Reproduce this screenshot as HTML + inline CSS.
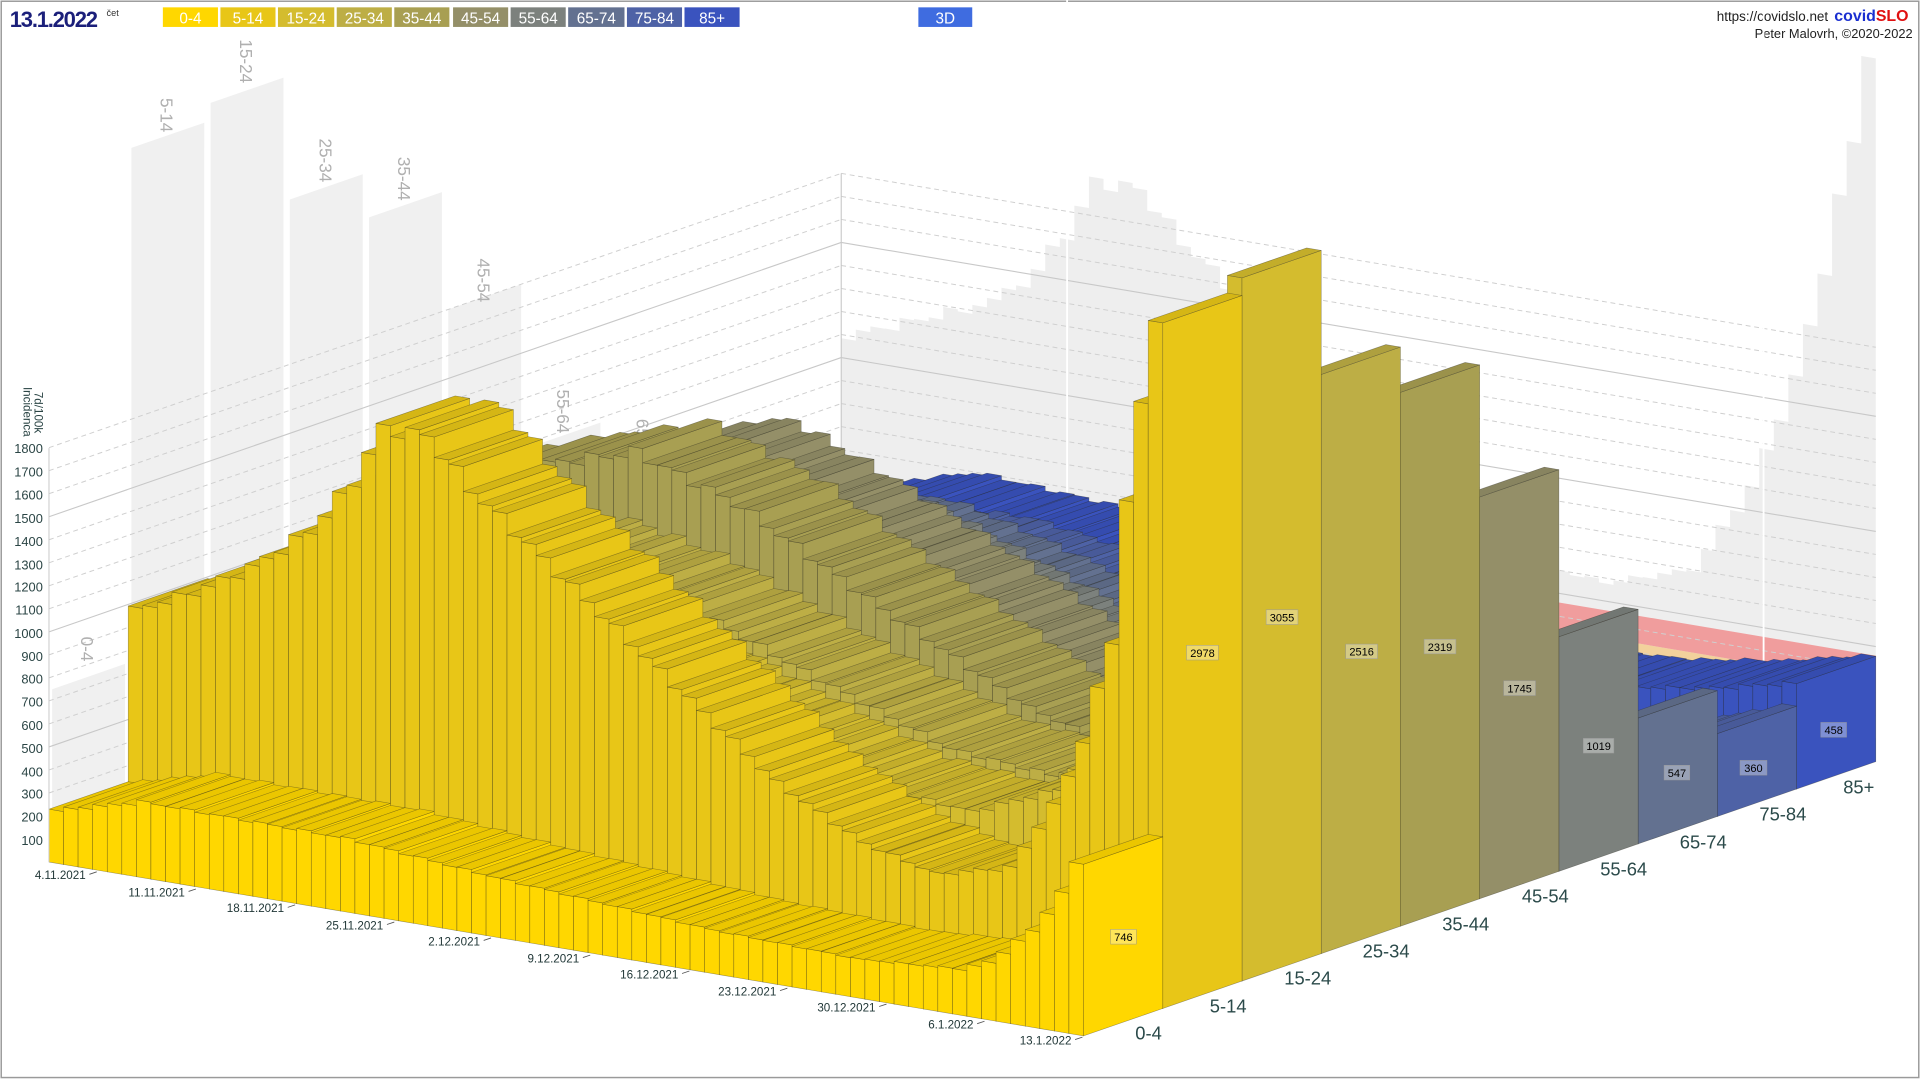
<!DOCTYPE html>
<html><head><meta charset="utf-8">
<style>
html,body{margin:0;padding:0;background:#fff;width:1920px;height:1080px;overflow:hidden}
svg{display:block}
text{font-family:"Liberation Sans Narrow","Liberation Sans",sans-serif}
</style></head>
<body>
<svg id="s" width="1920" height="1080" viewBox="0 0 1568 882" preserveAspectRatio="none" xmlns="http://www.w3.org/2000/svg">
<rect x="1" y="1" width="1566" height="879" fill="#fff" stroke="#9a9a9a" stroke-width="1.2"/>
<text x="8" y="22" font-size="18" font-weight="bold" fill="#1b1f7a" style="letter-spacing:-1px">13.1.2022</text>
<text x="87" y="13" font-size="7.5" fill="#333">čet</text>
<g font-size="12.5" fill="#fff" text-anchor="middle">
<rect x="133" y="6" width="45" height="16" fill="#FFD700"/><text x="155.5" y="19">0-4</text>
<rect x="180" y="6" width="45" height="16" fill="#E8C617"/><text x="202.5" y="19">5-14</text>
<rect x="227" y="6" width="46" height="16" fill="#D4BC2E"/><text x="250" y="19">15-24</text>
<rect x="275" y="6" width="45" height="16" fill="#BDAE45"/><text x="297.5" y="19">25-34</text>
<rect x="322" y="6" width="45" height="16" fill="#A89F52"/><text x="344.5" y="19">35-44</text>
<rect x="370" y="6" width="45" height="16" fill="#948F68"/><text x="392.5" y="19">45-54</text>
<rect x="417" y="6" width="45" height="16" fill="#7C817D"/><text x="439.5" y="19">55-64</text>
<rect x="464" y="6" width="46" height="16" fill="#637190"/><text x="487" y="19">65-74</text>
<rect x="512" y="6" width="45" height="16" fill="#4E62A6"/><text x="534.5" y="19">75-84</text>
<rect x="559" y="6" width="45" height="16" fill="#3A53BE"/><text x="581.5" y="19">85+</text>
<rect x="750" y="6" width="44" height="16" fill="#3F6CE0"/><text x="772" y="19">3D</text>
</g>
<text x="1493" y="17" font-size="11" fill="#222" text-anchor="end">https://covidslo.net</text>
<text x="1498" y="17" font-size="13" font-weight="bold" fill="#1a2fd0">covid<tspan fill="#e01010">SLO</tspan></text>
<text x="1562" y="31" font-size="10.5" fill="#222" text-anchor="end">Peter Malovrh, ©2020-2022</text>

<g id="walls"></g>

<g font-size="14" fill="#b0b0b0">
<text transform="translate(66,530) rotate(90)" text-anchor="middle">0-4</text>
<text transform="translate(131,94) rotate(90)" text-anchor="middle">5-14</text>
<text transform="translate(196,50) rotate(90)" text-anchor="middle">15-24</text>
<text transform="translate(261,131) rotate(90)" text-anchor="middle">25-34</text>
<text transform="translate(325,146) rotate(90)" text-anchor="middle">35-44</text>
<text transform="translate(390,229) rotate(90)" text-anchor="middle">45-54</text>
<text transform="translate(455,336) rotate(90)" text-anchor="middle">55-64</text>
<text transform="translate(520,360) rotate(90)" text-anchor="middle">65-74</text>
<text transform="translate(584,372) rotate(90)" text-anchor="middle">75-84</text>
<text transform="translate(649,370) rotate(90)" text-anchor="middle">85+</text>
</g>

<g id="bars"></g>

<line x1="40" y1="366" x2="40" y2="704" stroke="#c8c8c8" stroke-width="0.8"/>
<g font-size="10.5" fill="#2b4545" text-anchor="end">
<text x="35" y="690">100</text><text x="35" y="671">200</text><text x="35" y="652">300</text>
<text x="35" y="634">400</text><text x="35" y="615">500</text><text x="35" y="596">600</text>
<text x="35" y="577">700</text><text x="35" y="558">800</text><text x="35" y="540">900</text>
<text x="35" y="521">1000</text><text x="35" y="502">1100</text><text x="35" y="483">1200</text>
<text x="35" y="465">1300</text><text x="35" y="446">1400</text><text x="35" y="427">1500</text>
<text x="35" y="408">1600</text><text x="35" y="389">1700</text><text x="35" y="370">1800</text>
</g>
<text transform="translate(19,316) rotate(90)" font-size="9.5" fill="#2b4545">Incidenca</text>
<text transform="translate(28,320) rotate(90)" font-size="9.5" fill="#2b4545">7d/100k</text>

<g font-size="9.5" fill="#223838" text-anchor="end">
<text x="70" y="718">4.11.2021</text>
<text x="151" y="732">11.11.2021</text>
<text x="232" y="745">18.11.2021</text>
<text x="313" y="759">25.11.2021</text>
<text x="392" y="772">2.12.2021</text>
<text x="473" y="786">9.12.2021</text>
<text x="554" y="799">16.12.2021</text>
<text x="634" y="813">23.12.2021</text>
<text x="715" y="826">30.12.2021</text>
<text x="795" y="840">6.1.2022</text>
<text x="875" y="853">13.1.2022</text>
</g>
<g stroke="#555" stroke-width="0.7">
<line x1="73" y1="714" x2="79" y2="712"/><line x1="154" y1="728" x2="160" y2="726"/>
<line x1="235" y1="741" x2="241" y2="739"/><line x1="316" y1="755" x2="322" y2="753"/>
<line x1="395" y1="768" x2="401" y2="766"/><line x1="476" y1="782" x2="482" y2="780"/>
<line x1="557" y1="795" x2="563" y2="793"/><line x1="637" y1="809" x2="643" y2="807"/>
<line x1="718" y1="822" x2="724" y2="820"/><line x1="798" y1="836" x2="804" y2="834"/>
<line x1="878" y1="849" x2="884" y2="847"/>
</g>

<g font-size="15" fill="#2b4a4a" text-anchor="middle">
<text x="938" y="849">0-4</text><text x="1003" y="827">5-14</text><text x="1068" y="804">15-24</text>
<text x="1132" y="782">25-34</text><text x="1197" y="760">35-44</text><text x="1262" y="737">45-54</text>
<text x="1326" y="715">55-64</text><text x="1391" y="693">65-74</text><text x="1456" y="670">75-84</text>
<text x="1518" y="648">85+</text>
</g>

<g font-size="9" fill="#000" text-anchor="middle">
<rect x="907" y="759" width="21" height="12" fill="#fff" fill-opacity="0.35" stroke="#999" stroke-width="0.4"/><text x="917.5" y="768.5">746</text>
<rect x="969" y="527" width="26" height="12" fill="#fff" fill-opacity="0.35" stroke="#999" stroke-width="0.4"/><text x="982" y="536.5">2978</text>
<rect x="1034" y="498" width="26" height="12" fill="#fff" fill-opacity="0.35" stroke="#999" stroke-width="0.4"/><text x="1047" y="507.5">3055</text>
<rect x="1099" y="526" width="26" height="12" fill="#fff" fill-opacity="0.35" stroke="#999" stroke-width="0.4"/><text x="1112" y="535.5">2516</text>
<rect x="1163" y="522" width="26" height="12" fill="#fff" fill-opacity="0.35" stroke="#999" stroke-width="0.4"/><text x="1176" y="531.5">2319</text>
<rect x="1228" y="556" width="26" height="12" fill="#fff" fill-opacity="0.35" stroke="#999" stroke-width="0.4"/><text x="1241" y="565.5">1745</text>
<rect x="1293" y="603" width="25" height="12" fill="#fff" fill-opacity="0.35" stroke="#999" stroke-width="0.4"/><text x="1305.5" y="612.5">1019</text>
<rect x="1359" y="625" width="21" height="12" fill="#fff" fill-opacity="0.35" stroke="#999" stroke-width="0.4"/><text x="1369.5" y="634.5">547</text>
<rect x="1421" y="621" width="22" height="12" fill="#fff" fill-opacity="0.35" stroke="#999" stroke-width="0.4"/><text x="1432" y="630.5">360</text>
<rect x="1487" y="590" width="21" height="12" fill="#fff" fill-opacity="0.35" stroke="#999" stroke-width="0.4"/><text x="1497.5" y="599.5">458</text>
</g>
</svg>
<script>
(function(){
var L=function(u,v){return [40+64.7*u+11.9*v, 704-22.4*u+2.0*v];};
var S=0.188;
var C=['#FFD700','#E8C617','#D4BC2E','#BDAE45','#A89F52','#948F68','#7C817D','#637190','#4E62A6','#3A53BE'];
var K=[
[[0,230],[6,330],[20,320],[30,260],[45,190],[55,170],[62,200],[64,250],[67,420],[69,600],[70,746]],
[[0,980],[4,1100],[8,1250],[12,1450],[15,1700],[17,1950],[20,1950],[23,1750],[27,1550],[32,1300],[38,1000],[44,700],[50,500],[55,420],[60,500],[63,800],[65,1100],[66,1330],[67,1570],[68,2165],[69,2600],[70,2978]],
[[0,800],[10,1000],[18,1150],[25,1050],[35,800],[45,580],[52,540],[58,700],[62,1100],[65,1600],[67,2100],[69,2700],[70,3055]],
[[0,850],[10,1050],[18,1200],[25,1100],[35,850],[45,620],[52,580],[58,700],[62,1000],[65,1400],[67,1800],[69,2250],[70,2516]],
[[0,1100],[10,1350],[18,1500],[25,1350],[35,1000],[45,680],[52,550],[58,600],[62,850],[65,1200],[67,1600],[69,2050],[70,2319]],
[[0,1000],[10,1250],[18,1400],[25,1220],[35,920],[45,600],[52,450],[58,480],[62,650],[65,900],[67,1200],[69,1500],[70,1745]],
[[0,780],[10,950],[18,1050],[25,900],[35,660],[45,420],[52,300],[58,300],[62,400],[65,550],[67,700],[69,900],[70,1019]],
[[0,600],[10,760],[18,820],[25,700],[35,510],[45,320],[52,220],[58,210],[62,270],[65,340],[67,410],[69,490],[70,547]],
[[0,480],[10,600],[18,620],[25,550],[35,410],[45,260],[52,180],[58,170],[62,200],[65,250],[67,290],[69,330],[70,360]],
[[0,430],[9,600],[18,560],[25,520],[35,440],[45,340],[52,290],[58,310],[62,350],[65,380],[67,410],[69,440],[70,458]]
];
function val(g,d){var k=K[g];for(var i=0;i<k.length-1;i++){if(d>=k[i][0]&&d<=k[i+1][0]){var t=(d-k[i][0])/(k[i+1][0]-k[i][0]);var v=k[i][1]+(k[i+1][1]-k[i][1])*t;if(d<70)v*=1+0.015*Math.sin(d*2.3+g*1.1);return v;}}return k[k.length-1][1];}
function shade(h,f){var r=parseInt(h.substr(1,2),16),g=parseInt(h.substr(3,2),16),b=parseInt(h.substr(5,2),16);return 'rgb('+Math.round(r*f)+','+Math.round(g*f)+','+Math.round(b*f)+')';}
function P(a){return a.map(function(p){return p[0].toFixed(1)+','+p[1].toFixed(1);}).join(' ');}
function up(p,h){return [p[0],p[1]-h];}
var w='';
var MX=[746,2978,3055,2516,2319,1800,1080,860,650,540];
for(var g=0;g<10;g++){var a=L(g+0.04,0),b=L(g+0.96,0),h=MX[g]*S;
w+='<polygon points="'+P([a,b,up(b,h),up(a,h)])+'" fill="#f0f0f0"/>';}
var pts=[L(10,0)];
for(var d=0;d<71;d++){var m=0;for(var g=0;g<10;g++){m=Math.max(m,val(g,d));}var h=m*S;pts.push(up(L(10,d),h));pts.push(up(L(10,d+1),h));}
pts.push(L(10,71));
w+='<polygon points="'+P(pts)+'" fill="#eeeeee"/>';
var B=[[0,100,'#a5cf9d'],[100,200,'#efeb97'],[200,340,'#f2d19c'],[340,460,'#f09d9d']];
B.forEach(function(x){var a=L(10,0),b=L(10,71);w+='<polygon points="'+P([up(a,x[0]*S),up(b,x[0]*S),up(b,x[1]*S),up(a,x[1]*S)])+'" fill="'+x[2]+'"/>';});
for(var k=1;k<=18;k++){var h=k*100*S,sol=(k%5==0);
var st=sol?'stroke="#c8c8c8" stroke-width="0.9"':'stroke="#cfcfcf" stroke-width="0.8" stroke-dasharray="4,3"';
var a=up(L(0,0),h),b=up(L(10,0),h),c=up(L(10,71),h);
w+='<line x1="'+a[0]+'" y1="'+a[1]+'" x2="'+b[0]+'" y2="'+b[1]+'" '+st+'/>';
w+='<line x1="'+b[0]+'" y1="'+b[1]+'" x2="'+c[0]+'" y2="'+c[1]+'" '+st+'/>';}
[15.5,63.3].forEach(function(v){var a=L(10,v);w+='<line x1="'+a[0]+'" y1="'+a[1]+'" x2="'+a[0]+'" y2="'+(a[1]-3200*S)+'" stroke="#fff" stroke-width="1.5"/>';});
var cb=L(10,0);w+='<line x1="'+cb[0]+'" y1="'+cb[1]+'" x2="'+cb[0]+'" y2="'+(cb[1]-1800*S)+'" stroke="#c8c8c8" stroke-width="0.9"/>';
document.getElementById('walls').innerHTML=w;
var s='';
for(var d=0;d<71;d++){for(var g=9;g>=0;g--){
var v=val(g,d),h=v*S,c=C[g];
var a=L(g,d),b=L(g+1,d),e=L(g,d+1),f=L(g+1,d+1);
var stroke=' stroke="rgba(40,40,30,0.45)" stroke-width="0.45"';
s+='<polygon points="'+P([a,e,up(e,h),up(a,h)])+'" fill="'+c+'"'+stroke+'/>';
s+='<polygon points="'+P([e,f,up(f,h),up(e,h)])+'" fill="'+c+'"'+stroke+'/>';
s+='<polygon points="'+P([up(a,h),up(b,h),up(f,h),up(e,h)])+'" fill="'+shade(c,0.92)+'"'+stroke+'/>';
}}
document.getElementById('bars').innerHTML=s;
})();
</script>
</body></html>
